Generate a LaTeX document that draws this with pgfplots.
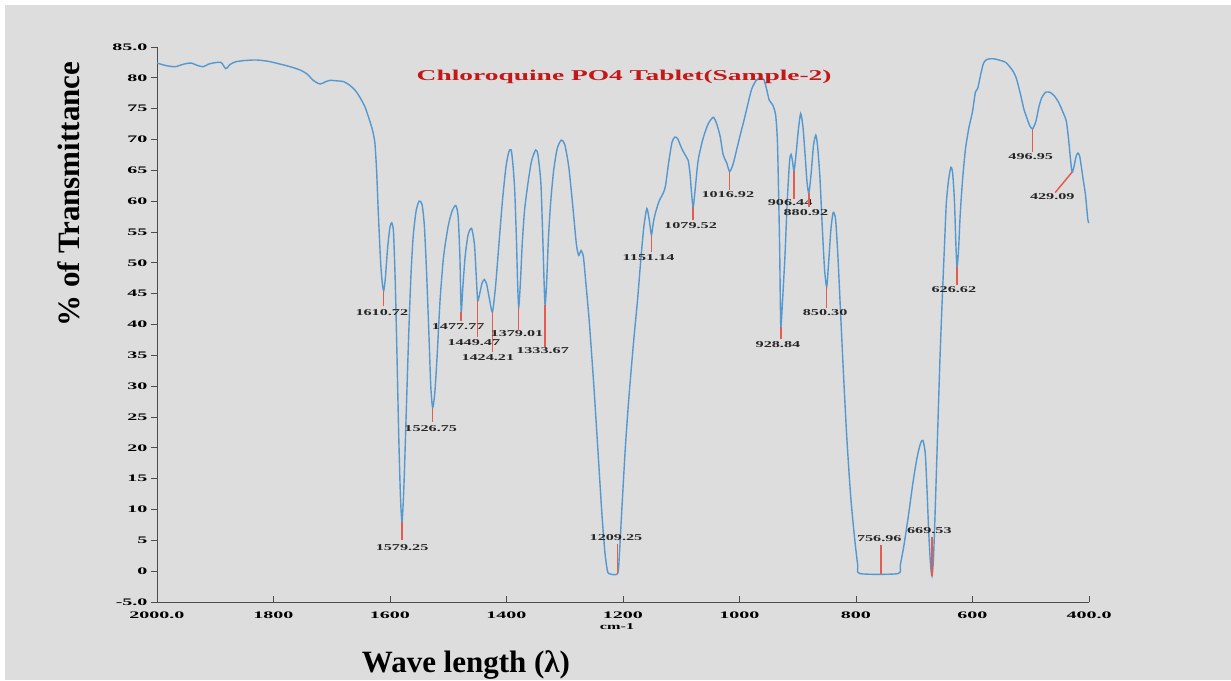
\documentclass[border=0pt]{standalone}
\usepackage{fontspec}
\setmainfont{Liberation Serif}
\newfontfamily\tickfont[FakeStretch=2.0]{Liberation Serif}
\newfontfamily\peakfont[FakeStretch=1.8]{Liberation Serif}
\newfontfamily\titlefont[FakeStretch=1.83]{Liberation Serif}
\usepackage{pgfplots}
\pgfplotsset{compat=1.18}

\definecolor{bg}{RGB}{221,221,221}
\definecolor{trace}{RGB}{84,152,208}
\definecolor{peakline}{RGB}{228,92,80}
\definecolor{titlered}{RGB}{196,24,24}

\tikzset{peaklbl/.style={font=\peakfont\bfseries\fontsize{9}{10}\selectfont, inner sep=0pt, text=black!85}}

% peak marker: position, minimum, end of the stick, label x, label y
\newcommand\peak[5]{%
  \addplot[draw=peakline, line width=1.5pt, mark=none] coordinates {(#1,#2) (#1,#3)};
  \node[peaklbl] at (axis cs:#4,#5) {#1};
}

\begin{document}
\begin{tikzpicture}[x=1pt,y=1pt]
\path[use as bounding box] (0,0) rectangle (1231,680);
\fill[white] (0,0) rectangle (1231,680);
\fill[bg] (5,0) rectangle (1231,675);

\begin{axis}[
  at={(157pt,78pt)}, anchor=south west,
  scale only axis, width=932pt, height=555pt,
  x dir=reverse,
  xmin=400, xmax=2000, ymin=-5, ymax=85,
  axis lines=left,
  axis line style={-, draw=black!70, line width=0.9pt},
  xtick={2000,1800,1600,1400,1200,1000,800,600,400},
  xticklabels={2000.0,1800,1600,1400,1200,1000,800,600,400.0},
  ytick={-5,0,5,10,15,20,25,30,35,40,45,50,55,60,65,70,75,80,85},
  yticklabels={-5.0,0,5,10,15,20,25,30,35,40,45,50,55,60,65,70,75,80,85.0},
  tick align=outside,
  major tick length=6pt,
  tick style={draw=black!70, line width=0.8pt},
  xtick style={yshift=6pt},
  tick label style={font=\tickfont\bfseries\fontsize{10}{12}\selectfont, text=black},
  clip=false,
]

% the transmittance trace
\addplot[draw=trace, line width=1.4pt, mark=none, smooth, tension=0.4] coordinates {
(2000,82.4) (1985,82.0) (1969,81.8) (1955,82.2) (1942,82.4) (1930,82.0)
(1921,81.8) (1912,82.2) (1904,82.4) (1890,82.5) (1882,81.5) (1874,82.2)
(1865,82.6) (1850,82.8) (1830,82.9) (1810,82.7) (1796,82.4) (1775,81.9)
(1755,81.3) (1742,80.6) (1732,79.6) (1720,79.0) (1710,79.4) (1703,79.6)
(1690,79.5) (1680,79.4) (1669,78.8) (1660,78.0) (1652,76.9) (1643,75.3)
(1635,73.1) (1630,71.5) (1626,69.5) (1623,65.0) (1620,58) (1616,50)
(1613,46.5) (1610.72,45.5) (1608,47.5) (1604,52.5) (1600,55.8) (1597,56.5)
(1594,55) (1591,47) (1588,35) (1585,22) (1582,12) (1579.25,8.0)
(1576,14) (1572,26) (1568,38) (1564,48) (1560,54.5) (1555,58.5)
(1550,60.0) (1545,59.5) (1541,56) (1537,48) (1533,38) (1530,30)
(1526.75,26.5) (1523,29) (1519,35) (1514,44) (1508,51) (1500,56)
(1493,58.5) (1487,59.3) (1483,57.5) (1480,51) (1477.77,42.1) (1475,46)
(1471,51) (1466,54.5) (1460,55.6) (1455,53) (1452,48) (1449.47,43.9)
(1446,45) (1442,46.7) (1438,47.3) (1434,46.5) (1429,44) (1424.21,42.0)
(1419,46) (1413,53) (1407,60) (1401,65.5) (1396,68.0) (1392,68.3)
(1389,66) (1386,62) (1383,54) (1381,47) (1379.01,42.8) (1376,47)
(1373,53) (1369,58.5) (1363,63) (1357,66.5) (1350,68.3) (1346,67.5)
(1341,63) (1338,55) (1335.5,47) (1333.67,43.1) (1331,47) (1328,54)
(1324,60) (1319,65) (1313,68.5) (1306,69.9) (1300,69.2) (1293,65.5)
(1286,59) (1280,53) (1276,51.2) (1272,52.0) (1268,51) (1264,47)
(1258,40.6) (1250,30) (1242,18) (1236,9) (1231,3) (1227,0.2)
(1224,-0.4) (1209.25,-0.4) (1206,3) (1202,10) (1196,20) (1190,28)
(1182,37) (1175,44) (1169,51) (1164,56) (1159,58.8) (1155,57)
(1151.14,54.5) (1148,56.5) (1144,58.2) (1138,60) (1131,61.3) (1127,62.5)
(1122,66) (1116,69.5) (1111,70.4) (1106,70.1) (1099,68.5) (1092,67.3)
(1088,66.6) (1085,64.5) (1082,61) (1079.52,59.0) (1076,62) (1071,66.6)
(1063,70) (1054,72.5) (1045,73.6) (1039,72.5) (1033,70.4) (1028,67.5)
(1022,66.2) (1016.92,64.8) (1011,66) (1005,68.3) (998,71) (991,73.6)
(985,76) (979,78.2) (972,79.5) (965,80.0) (958,79.7) (953,78)
(949,76.4) (943,75.6) (938,74) (935,70) (933,62) (931,52)
(929.8,43) (928.84,39.6) (926,44) (922,51) (918,60) (914,66.5)
(911.5,67.6) (909,66.5) (906.44,64.9) (903,67.5) (899,71.5) (895,74.2)
(891,72) (887,67) (884,63) (880.92,61.3) (877,64.5) (873,69)
(869,70.7) (866,69) (862,64) (858,56) (854,49) (850.30,46.1)
(847,50) (843,55.5) (839,58.2) (835,57) (831,51) (827,43)
(822,33) (816,22) (809,12) (802,5) (797,1) (793,-0.4)
(728,-0.4) (724,1) (718,4) (710,9) (702,14.5) (695,18.5)
(689,20.8) (685,21.2) (681,19) (678,13) (675,6) (672,1)
(669.53,-0.8) (667,2) (664,10) (660,22) (656,34) (652,44)
(648,53) (645,59.6) (641,63.5) (637,65.5) (634,64.5) (631,60)
(628.5,53) (626.62,49.3) (624,52) (621,58) (617,63.5) (612,68.5)
(606,72) (600,74.5) (595,77.7) (591,78.3) (586,80.5) (581,82.4)
(575,83.0) (565,83.1) (555,82.9) (543,82.5) (532,81.3) (525,80)
(518,77.5) (512,75) (507,73.6) (502,72.3) (496.95,71.7) (491,73)
(486,75.3) (481,76.8) (474,77.7) (466,77.6) (459,77) (452,76)
(445,74.5) (439,73) (435,70) (432,67) (429.09,64.7) (426,65.5)
(422,67.3) (419,67.8) (416,67.3) (413,65.5) (410,63.5) (406,61)
(402,57) (400,56.5)
};

\peak{1610.72}{45.5}{43.0}{1614}{41.9}
\peak{1579.25}{8.0}{5.05}{1579.25}{3.9}
\peak{1526.75}{26.5}{24.2}{1530}{23.05}
\peak{1477.77}{42.1}{40.6}{1483}{39.6}
\peak{1449.47}{43.9}{38.0}{1456}{37.0}
\peak{1424.21}{42.0}{35.6}{1432}{34.7}
\peak{1379.01}{42.8}{39.1}{1382}{38.5}
\peak{1333.67}{43.1}{36.3}{1338}{35.7}
\peak{1209.25}{-0.4}{4.4}{1212}{5.4}
\peak{1151.14}{54.5}{51.75}{1156}{50.9}
\peak{1079.52}{59.0}{56.9}{1084}{56.0}
\peak{1016.92}{64.8}{61.8}{1020}{61.0}
\peak{928.84}{39.6}{37.6}{934}{36.8}
\peak{906.44}{64.9}{60.3}{913}{59.7}
\peak{880.92}{61.3}{59.05}{886}{58.2}
\peak{850.30}{46.1}{42.7}{853}{41.9}
\peak{756.96}{-0.4}{4.3}{760}{5.3}
\peak{669.53}{-0.8}{5.5}{674}{6.5}
\peak{626.62}{49.3}{46.4}{632}{45.6}
\peak{496.95}{71.7}{68.0}{500}{67.2}
\addplot[draw=peakline, line width=1.5pt, mark=none] coordinates {(429.09,64.7) (458,61.4)};
\node[peaklbl] at (axis cs:463,60.8) {429.09};

\node[font=\titlefont\bfseries\fontsize{15}{18}\selectfont, text=titlered]
  at (axis cs:1198,80.1) {Chloroquine PO4 Tablet(Sample-2)};
\end{axis}

\node[font=\peakfont\bfseries\fontsize{9}{10}\selectfont, inner sep=0pt] at (617,53) {cm-1};
\node[font=\bfseries\fontsize{31}{36}\selectfont, rotate=90, anchor=base] at (79,486) {\% of Transmittance};
\node[font=\bfseries\fontsize{31}{36}\selectfont, anchor=base] at (466,8) {Wave length (λ)};
\end{tikzpicture}
\end{document}
